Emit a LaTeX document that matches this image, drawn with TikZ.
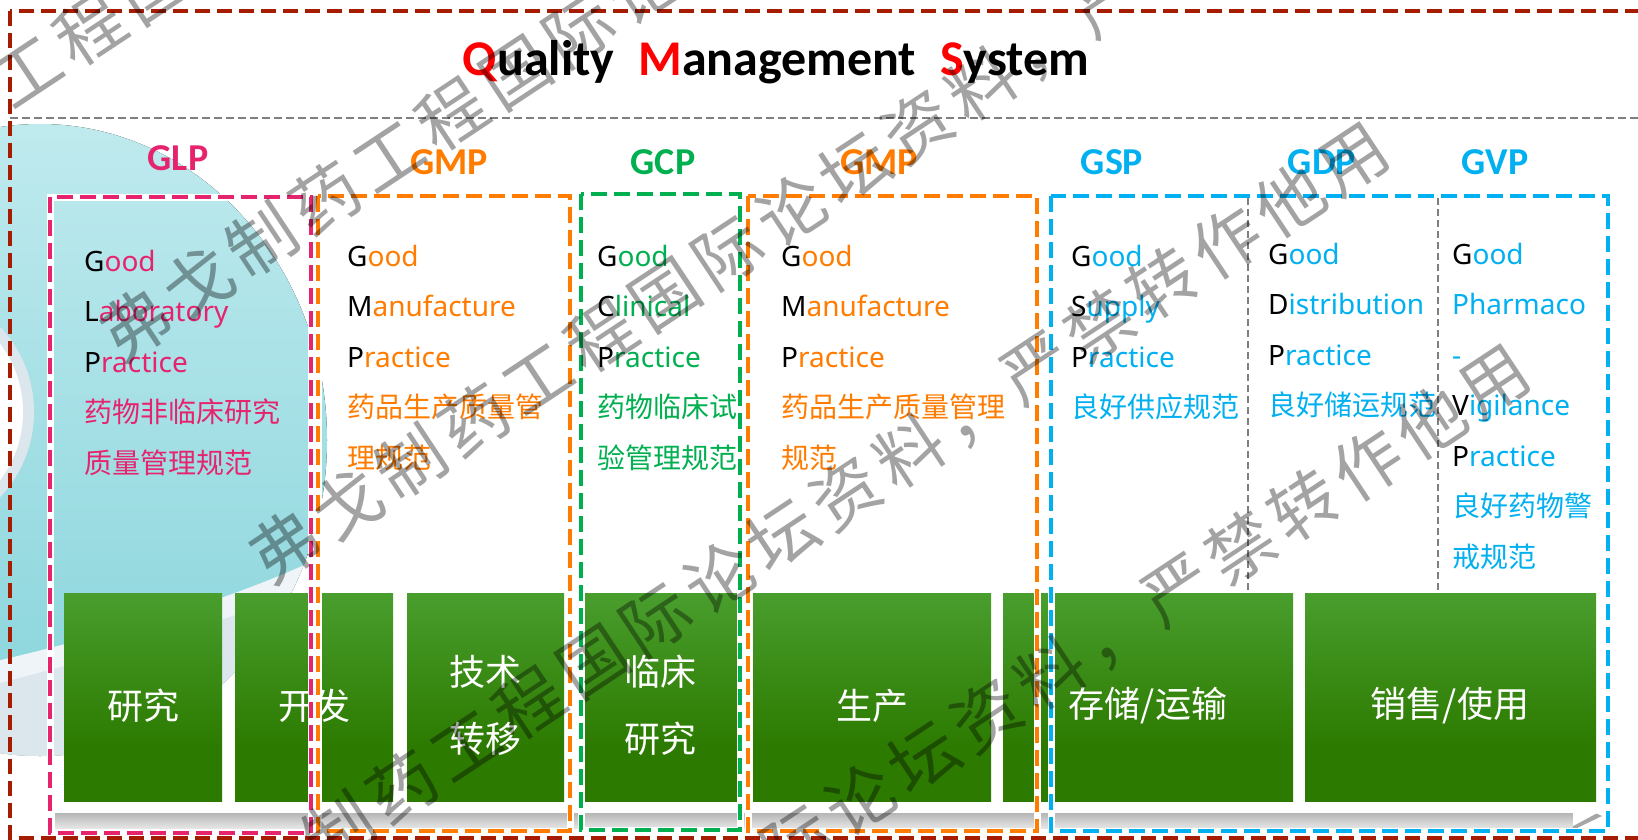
\documentclass[tikz,border=0pt]{standalone}
\usepackage{fontspec}
\setmainfont{Noto Sans}
\newfontfamily\cjk{Noto Sans CJK SC}
\newfontfamily\hfont{Carlito}
\definecolor{qred}{HTML}{FF0000}
\definecolor{framered}{HTML}{A61C00}
\definecolor{cpink}{HTML}{E6246E}
\definecolor{corange}{HTML}{FF7C00}
\definecolor{cgreen}{HTML}{00B050}
\definecolor{cblue}{HTML}{00B0F0}
\definecolor{glight}{HTML}{5DB64C}
\definecolor{gdark}{HTML}{2C7A00}
\definecolor{tealL}{HTML}{BFEAEE}
\definecolor{tealM}{HTML}{8FD8DF}
\definecolor{tealD}{HTML}{86D4DB}
\definecolor{grayblue}{HTML}{DCE7ED}
\definecolor{paleblue}{HTML}{EEF4F7}
\definecolor{dgray}{HTML}{7F7F7F}
\pgfdeclareverticalshading{greenbox}{100bp}{color(0bp)=(gdark); color(38bp)=(gdark); color(100bp)=(glight)}
\pgfdeclareverticalshading{shadowbar}{100bp}{color(0bp)=(white); color(100bp)=(black!40)}
\newcommand\K[1]{\textcolor{black}{#1}}
\newcommand\wk{\kern8pt}
\newcommand\wmtext{弗\wk 戈\wk 制\wk 药\wk 工\wk 程\wk 国\wk 际\wk 论\wk 坛\wk 资\wk 料\wk ，\wk 严\wk 禁\wk 转\wk 作\wk 他\wk 用}
\tikzset{
  hdr/.style={font=\hfont\bfseries\fontsize{38}{40}\selectfont, anchor=base, inner sep=0pt},
  col/.style={font=\fontsize{28}{50.5}\selectfont, align=left, anchor=north west, inner sep=0pt},
  gbox/.style={shading=greenbox, draw=none, minimum height=208pt, inner sep=0pt, anchor=north west},
  glab/.style={font=\cjk\fontsize{36}{67}\selectfont, text=white, align=center, inner sep=0pt},
  qbox/.style={line width=4pt, dash pattern=on 16pt off 7pt, preaction={draw=white, line width=7pt, solid}},
  divider/.style={draw=dgray, line width=2pt, dash pattern=on 7pt off 4pt},
  wmk/.style={font=\cjk\fontsize{68}{70}\selectfont, text=black, text opacity=0.36, rotate=33.5, inner sep=0pt},
}
\begin{document}
\begin{tikzpicture}[x=1pt, y=-1pt]
\useasboundingbox (0,0) rectangle (1638,840);
\clip (0,0) rectangle (1638,840);
\fill[white] (0,0) rectangle (1638,840);

% background swoosh
\begin{scope}
  \clip (0,119) rectangle (1638,840);
  \fill[top color=tealL, middle color=tealM, bottom color=tealD] (40,440) ellipse [x radius=287pt, y radius=316pt];
  \begin{scope}
    \clip (40,440) ellipse [x radius=287pt, y radius=316pt];
    \fill[paleblue] (345,545) .. controls (260,590) and (150,625) .. (-20,665) -- (-20,850) -- (345,850) -- cycle;
    \fill[grayblue] (345,570) .. controls (260,612) and (150,645) .. (-20,688) -- (-20,850) -- (345,850) -- cycle;
  \end{scope}
  \fill[grayblue] (-90,412) circle [radius=124pt];
  \fill[white] (-90,412) circle [radius=113pt];
\end{scope}

% bottom arrow bar
\fill[shading=shadowbar] (55,812) rectangle (1575,828);
\fill[white] (55,800) rectangle (1575,813);
\fill[black!35] (1573,803) -- (1602,816) -- (1573,830) -- cycle;
\fill[white] (1573,797) -- (1599,812) -- (1573,826) -- cycle;

% process boxes
\node[gbox, minimum width=158pt] (b1) at (64,593) {};
\node[gbox, minimum width=158pt] (b2) at (235,593) {};
\node[gbox, minimum width=157pt] (b3) at (407,593) {};
\node[gbox, minimum width=159pt] (b4) at (581,593) {};
\node[gbox, minimum width=238pt] (b5) at (753,593) {};
\node[gbox, minimum width=290pt] (b6) at (1003,593) {};
\node[gbox, minimum width=291pt] (b7) at (1305,593) {};
\node[glab] (l1) at (143,706) {研究};
\node[glab] (l2) at (314,706) {开发};
\node[glab] (l3) at (485,705) {技术\\转移};
\node[glab] (l4) at (660,705) {临床\\研究};
\node[glab] (l5) at (872,706) {生产};
\node[glab] (l6) at (1148,706) {存储/运输};
\node[glab] (l7) at (1450,706) {销售/使用};

% dashed regulation boxes
\draw[qbox, cpink] (50,197) rectangle (311,833);
\draw[qbox, corange] (318,196) rectangle (570,831);
\draw[qbox, cgreen] (581,194) rectangle (740,830);
\draw[qbox, corange] (748,196) rectangle (1037,831);
\draw[qbox, cblue] (1051,196) rectangle (1608,831);
\draw[divider] (1248,198) -- (1248,590);
\draw[divider] (1438,198) -- (1438,590);

% outer frame and title rule
\draw[framered, line width=4pt, dash pattern=on 15pt off 7pt] (10,11) rectangle (1670,838);
\draw[dgray, line width=2pt, dash pattern=on 8pt off 4pt] (10,118) -- (1638,118);

% title
\node[font=\hfont\bfseries\fontsize{50}{56}\selectfont, anchor=base, inner sep=0pt] (title) at (776,76)
  {\textcolor{qred}{Q}uality\hspace{24pt}\textcolor{qred}{M}anagement\hspace{24pt}\textcolor{qred}{S}ystem};

% headers
\node[hdr, text=cpink] (hglp) at (178,171) {GLP};
\node[hdr, text=corange] (hgmp1) at (449,175) {GMP};
\node[hdr, text=cgreen] (hgcp) at (663,175) {GCP};
\node[hdr, text=corange] (hgmp2) at (879,175) {GMP};
\node[hdr, text=cblue] (hgsp) at (1112,175) {GSP};
\node[hdr, text=cblue] (hgdp) at (1322,175) {GDP};
\node[hdr, text=cblue] (hgvp) at (1495,175) {GVP};

% column texts
\node[col, text=cpink] (tglp) at (84,241)
  {\rule{0pt}{30pt}\K{G}ood\\ \K{L}aboratory\\ \K{P}ractice\\ {\cjk 药物非临床研究}\\ {\cjk 质量管理规范}};
\node[col, text=corange] (tgmp1) at (347,236)
  {\rule{0pt}{30pt}\K{G}ood\\ \K{M}anufacture\\ \K{P}ractice\\ {\cjk 药品生产质量管}\\ {\cjk 理规范}};
\node[col, text=cgreen] (tgcp) at (597,236)
  {\rule{0pt}{30pt}\K{G}ood\\ \K{C}linical\\ \K{P}ractice\\ {\cjk 药物临床试}\\ {\cjk 验管理规范}};
\node[col, text=corange] (tgmp2) at (781,236)
  {\rule{0pt}{30pt}\K{G}ood\\ \K{M}anufacture\\ \K{P}ractice\\ {\cjk 药品生产质量管理}\\ {\cjk 规范}};
\node[col, text=cblue] (tgsp) at (1071,236)
  {\rule{0pt}{30pt}\K{G}ood\\ \K{S}upply\\ \K{P}ractice\\ {\cjk 良好供应规范}};
\node[col, text=cblue] (tgdp) at (1268,234)
  {\rule{0pt}{30pt}\K{G}ood\\ \K{D}istribution\\ \K{P}ractice\\ {\cjk 良好储运规范}};
\node[col, text=cblue] (tgvp) at (1452,234)
  {\rule{0pt}{30pt}\K{G}ood\\ Pharmaco\\ -\\ \K{V}igilance\\ \K{P}ractice\\ {\cjk 良好药物警}\\ {\cjk 戒规范}};

% watermark
\node[wmk] (wm0) at (344,-138) {\wmtext};
\node[wmk] (wmA) at (706,-53) {\wmtext};
\node[wmk] (wmB) at (855,169) {\wmtext};
\node[wmk] (wmC) at (783,536) {\wmtext};
\node[wmk] (wmD) at (924,758) {\wmtext};
\end{tikzpicture}
\end{document}
